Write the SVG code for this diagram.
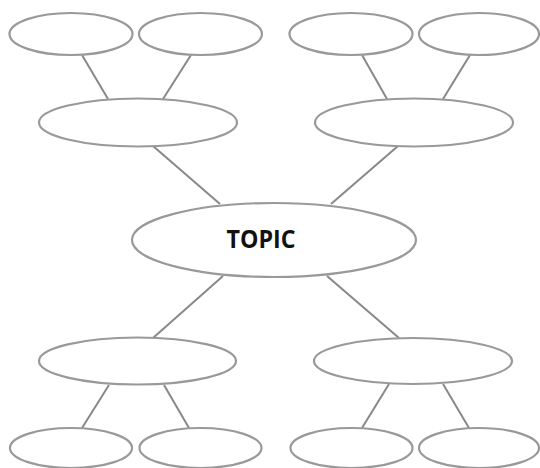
<svg xmlns="http://www.w3.org/2000/svg" width="540" height="468" viewBox="0 0 540 468">
<style>
.n{fill:#fff;stroke:#999;stroke-width:2.2}
.c line{stroke:#888;stroke-width:2}
.t{font-family:"Open Sans","Liberation Sans",Arial,sans-serif;font-weight:bold;font-size:25px;fill:#111}
</style>
<rect width="540" height="468" fill="#fff"/>
<g class="c" id="connectors">
<line x1="82" y1="55" x2="108" y2="99"/>
<line x1="191" y1="55" x2="163" y2="99"/>
<line x1="362" y1="55" x2="387" y2="99"/>
<line x1="470" y1="55" x2="443" y2="99"/>
<line x1="153" y1="146" x2="220" y2="204"/>
<line x1="398" y1="146" x2="331" y2="204"/>
<line x1="223" y1="276" x2="153" y2="338"/>
<line x1="327" y1="276" x2="399" y2="338"/>
<line x1="109" y1="385" x2="82" y2="428"/>
<line x1="164" y1="385" x2="189" y2="428"/>
<line x1="389" y1="384" x2="362" y2="428"/>
<line x1="443" y1="384" x2="469" y2="428"/>
</g>
<g id="leaf1"><ellipse class="n" cx="71" cy="34" rx="61.5" ry="21"/></g>
<g id="leaf2"><ellipse class="n" cx="200.5" cy="34" rx="61.5" ry="21"/></g>
<g id="leaf3"><ellipse class="n" cx="351" cy="34" rx="61.5" ry="21"/></g>
<g id="leaf4"><ellipse class="n" cx="479" cy="34" rx="60" ry="21"/></g>
<g id="branchTL"><ellipse class="n" cx="138" cy="122.5" rx="99" ry="24"/></g>
<g id="branchTR"><ellipse class="n" cx="414" cy="122.5" rx="99" ry="24"/></g>
<g id="topic"><ellipse class="n" cx="274" cy="240" rx="142" ry="37"/>
<text class="t" x="261" y="247.5" text-anchor="middle" textLength="69" lengthAdjust="spacingAndGlyphs">TOPIC</text></g>
<g id="branchBL"><ellipse class="n" cx="137.5" cy="361" rx="98.5" ry="23.5"/></g>
<g id="branchBR"><ellipse class="n" cx="413" cy="361" rx="99" ry="23"/></g>
<g id="leaf5"><ellipse class="n" cx="71" cy="448" rx="61" ry="20"/></g>
<g id="leaf6"><ellipse class="n" cx="200.5" cy="448" rx="61" ry="20"/></g>
<g id="leaf7"><ellipse class="n" cx="351.5" cy="448" rx="61" ry="20"/></g>
<g id="leaf8"><ellipse class="n" cx="479" cy="448" rx="60" ry="20"/></g>
</svg>
